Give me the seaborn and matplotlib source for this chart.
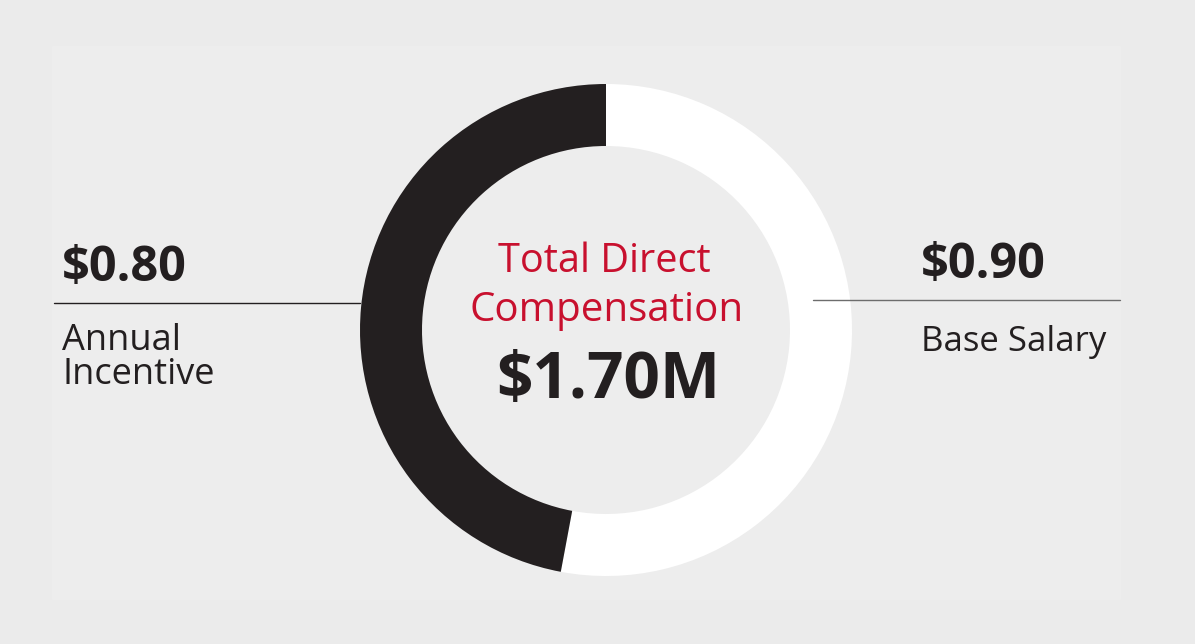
import matplotlib
matplotlib.use("Agg")
import matplotlib.pyplot as plt
import seaborn as sns

labels = ["Base Salary", "Annual Incentive"]
values = [0.90, 0.80]
colors = ["#ffffff", "#231f20"]
total_label = "$1.70M"

sns.set_theme(style="white")
plt.rcParams["font.family"] = ["Open Sans", "DejaVu Sans"]

W, H = 1195, 644
fig = plt.figure(figsize=(W / 100, H / 100), dpi=100, facecolor="#ebebeb")
ax = fig.add_axes([0, 0, 1, 1])

# faint inner panel
ax.add_patch(plt.Rectangle((52, H - 599), 1068, 553, color="#ededed", zorder=0))

ax.pie(values, colors=colors, startangle=90, counterclock=False,
       center=(606, H - 330), radius=246, frame=True,
       wedgeprops=dict(width=62, linewidth=0))
ax.set_xlim(0, W)
ax.set_ylim(0, H)
ax.set_aspect("equal")
ax.axis("off")

# centre text
red = "#c8102e"
ax.text(604, H - 262, "Total Direct", color=red, fontsize=28.5, ha="center", va="center")
ax.text(607, H - 311, "Compensation", color=red, fontsize=29, ha="center", va="center")
ax.text(608, H - 381, total_label, color="#231f20", fontsize=46, fontweight="bold",
        ha="center", va="center")

# left label
ax.plot([54, 360], [H - 303, H - 303], color="#231f20", lw=1)
ax.text(62, H - 268, f"${values[1]:.2f}", fontsize=35, fontweight="bold",
        color="#231f20", ha="left", va="center")
ax.text(62, H - 358, "Annual\nIncentive", fontsize=26, color="#231f20",
        ha="left", va="center", linespacing=0.95)

# right label
ax.plot([813, 1120], [H - 300, H - 300], color="#6d6d6d", lw=1)
ax.text(921, H - 265, f"${values[0]:.2f}", fontsize=35, fontweight="bold",
        color="#231f20", ha="left", va="center")
ax.text(921, H - 342, labels[0], fontsize=25, color="#231f20",
        ha="left", va="center")

fig.savefig("out.png", dpi=100, facecolor=fig.get_facecolor())
